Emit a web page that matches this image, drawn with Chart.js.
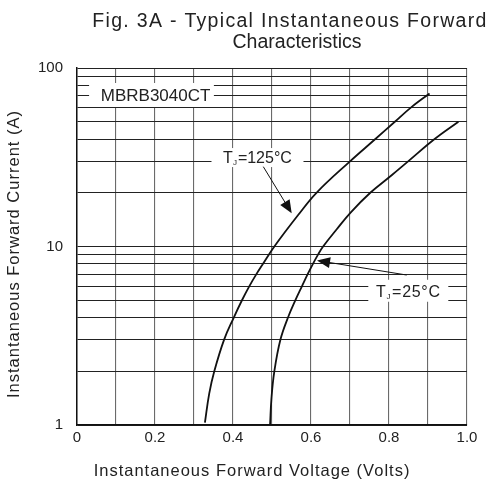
<!DOCTYPE html>
<html>
<head>
<meta charset="utf-8">
<script src="https://cdn.jsdelivr.net/npm/chart.js@4.4.1/dist/chart.umd.min.js"></script>
<style>
  html, body { margin: 0; padding: 0; background: #fff; }
  #wrap { width: 496px; height: 481px; }
</style>
</head>
<body>
<div id="wrap"><canvas id="fig3a"></canvas></div>
<script>
// forward voltage (V) vs forward current (A)
const vf125 = [0.328, 0.339, 0.352, 0.377, 0.402, 0.423, 0.442, 0.460, 0.477, 0.506, 0.567, 0.614, 0.700, 0.765, 0.815, 0.856, 0.904];
const if125 = [1.03, 1.5, 2, 3, 4, 5, 6, 7, 8, 10, 15, 20, 30, 40, 50, 60, 72];

const vf25 = [0.495, 0.4987, 0.506, 0.5215, 0.541, 0.560, 0.577, 0.5915, 0.605, 0.618, 0.631, 0.666, 0.7015, 0.752, 0.806, 0.849, 0.917, 0.978];
const if25 = [1.0, 1.42, 2, 3, 4, 5, 6, 7, 8, 9, 10, 12.5, 15.5, 20, 25, 30, 40, 50];

const xTicks = [0, 0.1, 0.2, 0.3, 0.4, 0.5, 0.6, 0.7, 0.8, 0.9, 1.0];
const xTickLabels = ['0', '', '0.2', '', '0.4', '', '0.6', '', '0.8', '', '1.0'];
const yTicks = [1, 2, 3, 4, 5, 6, 7, 8, 9, 10, 20, 30, 40, 50, 60, 70, 80, 90, 100];
const yTickLabels = { 1: '1', 10: '10', 100: '100' };

const FONT = '"Liberation Sans", Arial, sans-serif';
Chart.defaults.font.family = FONT;
Chart.defaults.color = '#222';

function pts(xs, ys) {
  return xs.map((v, i) => ({ x: v, y: ys[i] }));
}

// text with a subscript J after the T, e.g. T_J=125°C
function drawTj(ctx, cx, cy, rest, size, spacing) {
  ctx.save();
  ctx.letterSpacing = spacing + 'px';
  ctx.font = size + 'px ' + FONT;
  const wT = ctx.measureText('T').width;
  const wR = ctx.measureText(rest).width;
  ctx.font = Math.round(size * 0.5) + 'px ' + FONT;
  const wJ = ctx.measureText('J').width + 1;
  const total = wT + wJ + wR;
  let x = cx - total / 2;
  ctx.textBaseline = 'alphabetic';
  ctx.textAlign = 'left';
  const base = cy + size * 0.36;
  ctx.font = size + 'px ' + FONT;
  ctx.fillText('T', x, base);
  x += wT;
  ctx.font = Math.round(size * 0.5) + 'px ' + FONT;
  ctx.fillText('J', x, base + 2);
  x += wJ;
  ctx.font = size + 'px ' + FONT;
  ctx.fillText(rest, x, base);
  ctx.restore();
  return total;
}

function arrow(ctx, x1, y1, x2, y2) {
  const a = Math.atan2(y2 - y1, x2 - x1);
  const len = 13, half = 5.5;
  ctx.save();
  ctx.strokeStyle = '#111';
  ctx.fillStyle = '#111';
  ctx.lineWidth = 1;
  ctx.beginPath();
  ctx.moveTo(x1, y1);
  ctx.lineTo(x2 - Math.cos(a) * len * 0.8, y2 - Math.sin(a) * len * 0.8);
  ctx.stroke();
  ctx.beginPath();
  ctx.moveTo(x2, y2);
  ctx.lineTo(x2 - Math.cos(a) * len - Math.sin(a) * half, y2 - Math.sin(a) * len + Math.cos(a) * half);
  ctx.lineTo(x2 - Math.cos(a) * len + Math.sin(a) * half, y2 - Math.sin(a) * len - Math.cos(a) * half);
  ctx.closePath();
  ctx.fill();
  ctx.restore();
}

const labelsPlugin = {
  id: 'figLabels',
  afterDatasetsDraw(chart) {
    const ctx = chart.ctx;
    const xs = chart.scales.x, ys = chart.scales.y;
    const px = v => xs.getPixelForValue(v);
    const py = v => ys.getPixelForValue(v);

    ctx.save();
    ctx.fillStyle = '#fff';
    // part number box
    ctx.fillRect(px(0.031), py(70.6) - 12, px(0.351) - px(0.031), 24);
    ctx.fillStyle = '#222';
    ctx.font = '17px ' + FONT;
    ctx.textAlign = 'left';
    ctx.textBaseline = 'middle';
    ctx.fillText('MBRB3040CT', px(0.061), py(70.6) + 1);

    // Tj = 125
    ctx.fillStyle = '#fff';
    ctx.fillRect(px(0.4628) - 46, py(31.5) - 9.5, 92, 19);
    ctx.fillStyle = '#222';
    drawTj(ctx, px(0.4628), py(31.5), '=125°C', 16, 0);
    arrow(ctx, px(0.4777), py(28.0), px(0.5505), py(15.35));

    // Tj = 25
    ctx.fillStyle = '#fff';
    ctx.fillRect(px(0.8495) - 40, py(5.65) - 11, 80, 22);
    ctx.fillStyle = '#222';
    drawTj(ctx, px(0.8495), py(5.65), '=25°C', 16, 0.7);
    arrow(ctx, px(0.8454), py(6.92), px(0.6154), py(8.35));
    ctx.restore();
  },
  afterDraw(chart) {
    const ctx = chart.ctx;
    ctx.save();
    ctx.fillStyle = '#222';
    ctx.textAlign = 'center';
    ctx.textBaseline = 'alphabetic';
    ctx.font = '19.5px ' + FONT;
    ctx.letterSpacing = '1.3px';
    ctx.fillText('Fig. 3A - Typical Instantaneous Forward', 290, 27);
    ctx.letterSpacing = '0px';
    ctx.fillText('Characteristics', 297, 48);

    ctx.font = '16.5px ' + FONT;
    ctx.letterSpacing = '1px';
    ctx.fillText('Instantaneous Forward Voltage (Volts)', 252, 476);

    ctx.translate(19, 254);
    ctx.rotate(-Math.PI / 2);
    ctx.fillText('Instantaneous Forward Current (A)', 0, 0);
    ctx.restore();
  }
};

new Chart(document.getElementById('fig3a'), {
  type: 'scatter',
  data: {
    datasets: [
      { label: 'TJ=125°C', data: pts(vf125, if125) },
      { label: 'TJ=25°C', data: pts(vf25, if25) }
    ]
  },
  options: {
    responsive: true,
    maintainAspectRatio: false,
    animation: false,
    showLine: true,
    layout: { padding: { top: 68, right: 29, left: 0, bottom: 0 } },
    elements: {
      point: { radius: 0 },
      line: { borderColor: '#111', borderWidth: 1.8, tension: 0.4, capBezierPoints: false }
    },
    plugins: {
      legend: { display: false },
      tooltip: { enabled: false }
    },
    scales: {
      x: {
        type: 'linear',
        min: 0,
        max: 1,
        afterBuildTicks: s => { s.ticks = xTicks.map(v => ({ value: v })); },
        afterFit: s => { s.height = 56; },
        ticks: {
          autoSkip: false,
          maxRotation: 0,
          padding: 4,
          font: { size: 15 },
          color: '#222',
          callback: (v, i) => xTickLabels[i]
        },
        grid: { color: '#6a6a6a', lineWidth: 1.1, drawTicks: false },
        border: { color: '#111', width: 1.5 }
      },
      y: {
        type: 'logarithmic',
        min: 1,
        max: 100,
        afterBuildTicks: s => { s.ticks = yTicks.map(v => ({ value: v })); },
        afterFit: s => { s.width = 77; },
        ticks: {
          autoSkip: false,
          padding: 14,
          font: { size: 15 },
          color: '#222',
          callback: v => yTickLabels[v] || ''
        },
        grid: { color: '#222', lineWidth: 1, drawTicks: false },
        border: { color: '#111', width: 1.5 }
      }
    }
  },
  plugins: [labelsPlugin]
});
</script>
</body>
</html>
